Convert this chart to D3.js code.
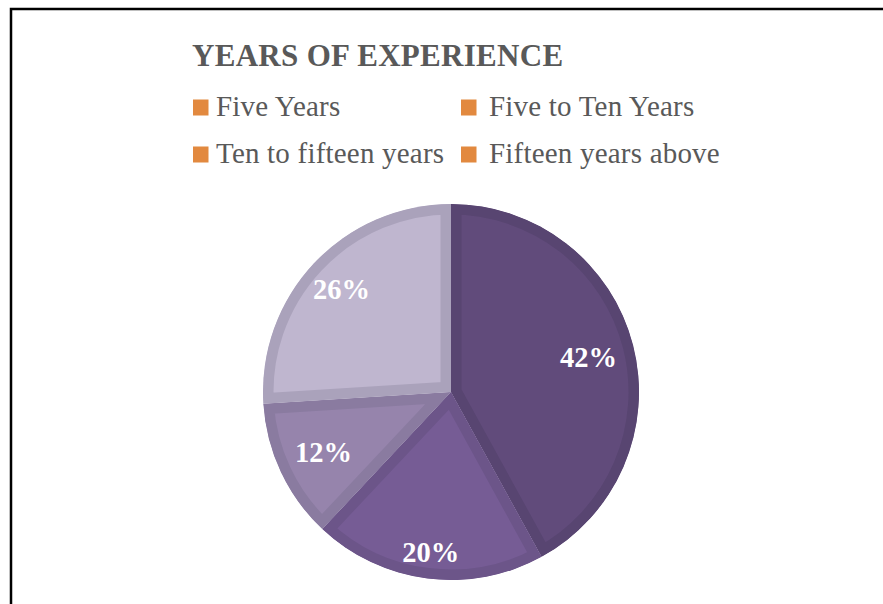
<!DOCTYPE html>
<html>
<head>
<meta charset="utf-8">
<script src="https://cdn.jsdelivr.net/npm/d3@7"></script>
<style>
  html, body { margin: 0; padding: 0; background: #fff; }
  svg { display: block; }
</style>
</head>
<body>
<svg id="chart" width="883" height="604"></svg>
<script>
// ---- data ----
const categories = ["Five Years", "Five to Ten Years", "Ten to fifteen years", "Fifteen years above"];
const values = [42, 20, 12, 26];
const labels = ["42%", "20%", "12%", "26%"];
const title = "YEARS OF EXPERIENCE";

// ---- styles ----
const fills   = ["#614b7b", "#765c95", "#9684ac", "#bfb6cf"];
const borders = ["#584571", "#6c5589", "#8a7ba0", "#aaa2bb"];
const legendColor = "#e2893f";
const textColor = "#595959";
const labelRadiusFactor = [0.755, 0.86, 0.75, 0.80];

const svg = d3.select("#chart");
const W = 883, H = 604;

// frame (left and top edges)
svg.append("path")
  .attr("d", `M11,${H} L11,9 L${W},9`)
  .attr("fill", "none")
  .attr("stroke", "#000")
  .attr("stroke-width", 2.5);

// title
svg.append("text")
  .attr("x", 192).attr("y", 66)
  .attr("font-family", "'Liberation Serif', 'Times New Roman', serif")
  .attr("font-weight", "bold")
  .attr("font-size", 31)
  .attr("letter-spacing", 0.3)
  .attr("fill", textColor)
  .text(title);

// legend
const colX = [193, 461];
const textX = [216, 489];
const rowY = [116, 163];
const legend = svg.append("g");
categories.forEach((c, i) => {
  const col = i % 2, row = Math.floor(i / 2);
  legend.append("rect")
    .attr("x", colX[col]).attr("y", rowY[row] - 16.5)
    .attr("width", 15.5).attr("height", 16)
    .attr("fill", legendColor);
  legend.append("text")
    .attr("x", textX[col]).attr("y", rowY[row])
    .attr("font-family", "'Liberation Serif', 'Times New Roman', serif")
    .attr("font-size", 29)
    .attr("letter-spacing", 0.2)
    .attr("fill", textColor)
    .text(c);
});

// pie
const cx = 451, cy = 392, R = 188, bw = 10.5;
const pie = d3.pie().sort(null).value(d => d)(values);
const arc = d3.arc().innerRadius(0).outerRadius(R);
const g = svg.append("g").attr("transform", `translate(${cx},${cy})`);
const defs = svg.append("defs");

pie.forEach((p, i) => {
  defs.append("clipPath").attr("id", "clip" + i)
    .append("path").attr("d", arc(p));
  g.append("path")
    .attr("d", arc(p))
    .attr("fill", fills[i])
    .attr("stroke", borders[i])
    .attr("stroke-width", bw * 2)
    .attr("stroke-linejoin", "miter")
    .attr("clip-path", `url(#clip${i})`);
});

// labels
pie.forEach((p, i) => {
  const a = (p.startAngle + p.endAngle) / 2;
  const r = R * labelRadiusFactor[i];
  g.append("text")
    .attr("x", Math.sin(a) * r)
    .attr("y", -Math.cos(a) * r)
    .attr("dy", "0.35em")
    .attr("text-anchor", "middle")
    .attr("font-family", "'Liberation Serif', 'Times New Roman', serif")
    .attr("font-weight", "bold")
    .attr("font-size", 28.5)
    .attr("fill", "#fff")
    .text(labels[i]);
});
</script>
</body>
</html>
